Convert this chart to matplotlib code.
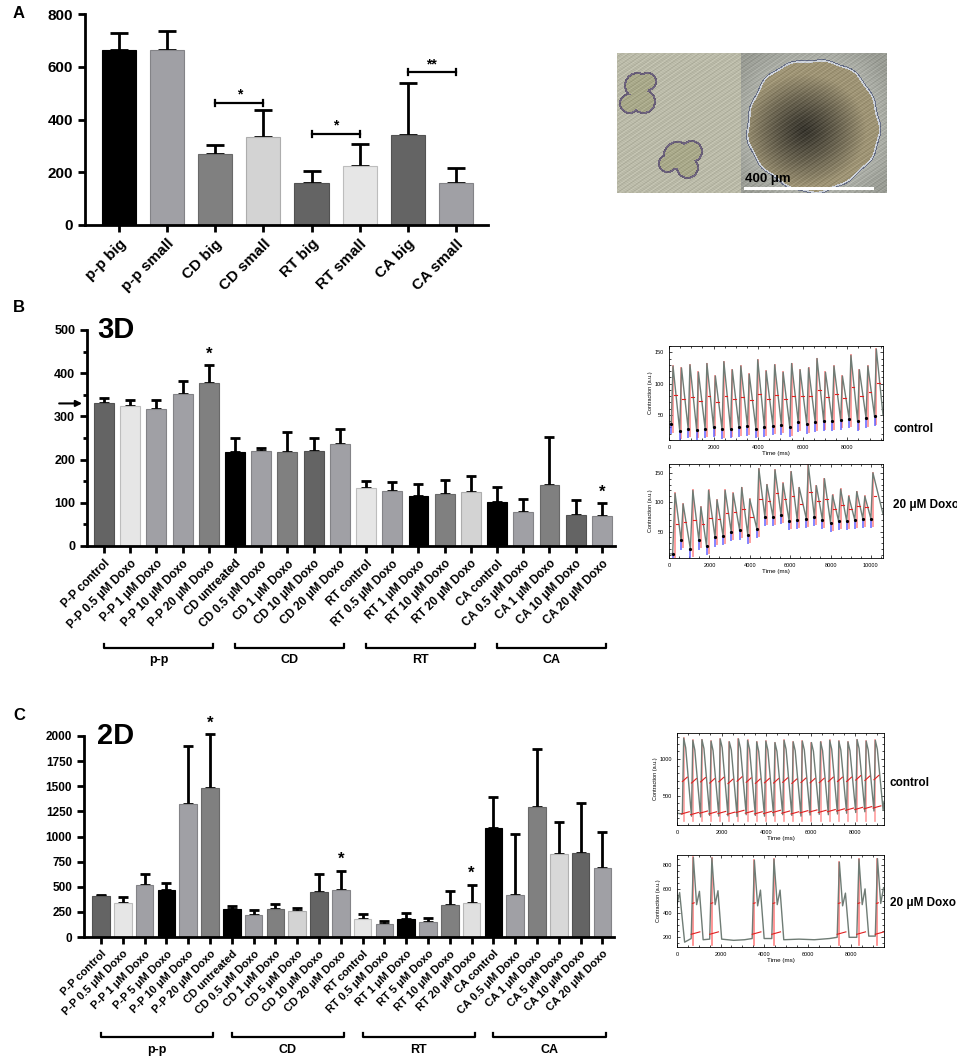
import numpy as np
import matplotlib.pyplot as plt
from matplotlib.colors import to_rgb
from matplotlib.transforms import blended_transform_factory

plt.rcParams['font.family'] = ['Liberation Sans', 'DejaVu Sans']
plt.rcParams['font.weight'] = 'bold'
plt.rcParams['axes.linewidth'] = 2

# ---------------- data ----------------
# panel A
a_labels = ['p-p big', 'p-p small', 'CD big', 'CD small', 'RT big', 'RT small', 'CA big', 'CA small']
a_values = [665, 665, 268, 335, 160, 222, 342, 160]
a_tops = [728, 735, 303, 435, 205, 307, 538, 218]
a_colors = ['#000000', '#a0a0a5', '#808080', '#d3d3d3', '#646464', '#e6e6e6', '#646464', '#a0a0a5']
a_sig = [(2, 3, 463, '*'), (4, 5, 345, '*'), (6, 7, 580, '**')]

# panel B (3D)
b_labels = ['P-P control', 'P-P 0.5 μM Doxo', 'P-P 1 μM Doxo', 'P-P 10 μM Doxo', 'P-P 20 μM Doxo',
            'CD untreated', 'CD 0.5 μM Doxo', 'CD 1 μM Doxo', 'CD 10 μM Doxo', 'CD 20 μM Doxo',
            'RT control', 'RT 0.5 μM Doxo', 'RT 1 μM Doxo', 'RT 10 μM Doxo', 'RT 20 μM Doxo',
            'CA control', 'CA 0.5 μM Doxo', 'CA 1 μM Doxo', 'CA 10 μM Doxo', 'CA 20 μM Doxo']
b_values = [330, 325, 317, 351, 377, 217, 219, 218, 221, 237, 134, 128, 115, 120, 124, 102, 79, 142, 71, 70]
b_tops = [342, 339, 337, 383, 420, 249, 226, 263, 249, 270, 150, 147, 144, 152, 163, 137, 108, 252, 107, 100]
b_colors = ['#646464', '#e6e6e6', '#a0a0a5', '#a0a0a5', '#808080',
            '#000000', '#a0a0a5', '#808080', '#646464', '#a0a0a5',
            '#e6e6e6', '#a0a0a5', '#000000', '#808080', '#d3d3d3',
            '#000000', '#a0a0a5', '#808080', '#646464', '#a0a0a5']
b_stars = [4, 19]
b_groups = [('p-p', 0, 4), ('CD', 5, 9), ('RT', 10, 14), ('CA', 15, 19)]
b_arrow_value = 330

# panel C (2D)
c_labels = ['P-P control', 'P-P 0.5 μM Doxo', 'P-P 1 μM Doxo', 'P-P 5 μM Doxo', 'P-P 10 μM Doxo', 'P-P 20 μM Doxo',
            'CD untreated', 'CD 0.5 μM Doxo', 'CD 1 μM Doxo', 'CD 5 μM Doxo', 'CD 10 μM Doxo', 'CD 20 μM Doxo',
            'RT control', 'RT 0.5 μM Doxo', 'RT 1 μM Doxo', 'RT 5 μM Doxo', 'RT 10 μM Doxo', 'RT 20 μM Doxo',
            'CA control', 'CA 0.5 μM Doxo', 'CA 1 μM Doxo', 'CA 5 μM Doxo', 'CA 10 μM Doxo', 'CA 20 μM Doxo']
c_values = [405, 342, 522, 465, 1319, 1482, 282, 219, 276, 262, 449, 468,
            179, 133, 176, 150, 319, 336, 1080, 419, 1296, 821, 837, 691]
c_tops = [422, 399, 631, 535, 1904, 2017, 312, 266, 326, 292, 625, 661,
          233, 156, 239, 186, 455, 518, 1395, 1023, 1867, 1143, 1336, 1045]
c_colors = ['#646464', '#e6e6e6', '#a0a0a5', '#000000', '#a0a0a5', '#808080',
            '#000000', '#a0a0a5', '#808080', '#d3d3d3', '#646464', '#a0a0a5',
            '#e6e6e6', '#a0a0a5', '#000000', '#a0a0a5', '#808080', '#e0e0e0',
            '#000000', '#a0a0a5', '#808080', '#d8d8d8', '#646464', '#a0a0a5']
c_stars = [5, 11, 17]
c_groups = [('p-p', 0, 5), ('CD', 6, 11), ('RT', 12, 17), ('CA', 18, 23)]

# contraction traces, 3D control
bc_trough_t = [100, 480, 860, 1240, 1620, 2000, 2380, 2760, 3140, 3520, 3900, 4280, 4660,
               5040, 5420, 5800, 6180, 6560, 6940, 7320, 7700, 8080, 8460, 8840, 9220]
bc_trough_v = [35, 25, 28, 26, 28, 30, 27, 28, 30, 32, 28, 30, 33, 34, 30, 38, 35, 38, 40, 40, 42, 44, 40, 45, 48]
bc_peak_t = [180, 560, 940, 1320, 1700, 2080, 2460, 2840, 3220, 3600, 3980, 4360, 4740,
             5120, 5500, 5880, 6260, 6640, 7020, 7400, 7780, 8160, 8540, 8920, 9300]
bc_peak_v = [128, 125, 130, 118, 132, 112, 135, 122, 128, 115, 138, 120, 130, 118, 132, 122, 125, 140, 118,
             128, 112, 145, 122, 128, 155]
# 3D 20 uM Doxo
bd_trough_t = [180, 600, 1060, 1480, 1860, 2280, 2680, 3080, 3500, 3900, 4350, 4750, 5150,
               5550, 5950, 6350, 6800, 7200, 7600, 8000, 8400, 8800, 9200, 9600, 10000]
bd_trough_v = [12, 35, 20, 35, 25, 40, 42, 50, 52, 45, 55, 75, 75, 78, 68, 70, 72, 75, 70, 65, 68, 68, 70, 72, 72]
bd_peak_t = [300, 700, 1180, 1580, 1960, 2380, 2780, 3180, 3600, 4000, 4450, 4850, 5250,
             5650, 6050, 6450, 6900, 7300, 7700, 8100, 8500, 8900, 9300, 9700, 10100]
bd_peak_v = [115, 97, 120, 92, 120, 104, 120, 115, 125, 105, 157, 130, 155, 132, 152, 125, 163, 128, 140,
             112, 122, 110, 118, 110, 150]
# 2D control
cc_peak_t = [300, 710, 1120, 1530, 1940, 2350, 2760, 3170, 3580, 3990, 4400,
             4810, 5220, 5630, 6040, 6450, 6860, 7270, 7680, 8090, 8500, 8910]
cc_peak_v = [1280, 1250, 1260, 1240, 1270, 1230, 1270, 1250, 1230, 1240, 1220,
             1250, 1230, 1240, 1220, 1230, 1250, 1240, 1230, 1260, 1240, 1250]
cc_second_t = [390, 800, 1210, 1620, 2030, 2440, 2850, 3260, 3670, 4080, 4490,
               4900, 5310, 5720, 6130, 6540, 6950, 7360, 7770, 8180, 8590, 9000]
cc_second_v = [1150, 1120, 1140, 1110, 1150, 1120, 1140, 1130, 1100, 1120, 1100,
               1130, 1110, 1120, 1100, 1110, 1130, 1120, 1110, 1140, 1120, 1130]
cc_trough_t = [650, 1060, 1470, 1880, 2290, 2700, 3110, 3520, 3930, 4340, 4750,
               5160, 5570, 5980, 6390, 6800, 7210, 7620, 8030, 8440, 8850, 9260]
cc_trough_v = [220, 210, 230, 220, 225, 215, 240, 230, 220, 225, 240,
               230, 220, 235, 245, 240, 250, 260, 270, 280, 290, 300]
# 2D 20 uM Doxo
cd_t = [0, 120, 350, 500, 650, 750, 900, 1030, 1200, 1500, 1600, 1750, 1880, 2050, 2600, 3100, 3450, 3550,
        3700, 3830, 4000, 4350, 4450, 4600, 4730, 4900, 5600, 6300, 7000, 7350, 7450, 7600, 7730, 7900,
        8250, 8350, 8500, 8630, 8800, 9100, 9200, 9350, 9480]
cd_v = [470, 570, 160, 175, 190, 860, 470, 580, 180, 185, 855, 470, 585, 185, 175, 180, 190, 835,
        460, 590, 190, 190, 845, 470, 590, 180, 185, 180, 190, 200, 820, 460, 565, 200,
        200, 845, 470, 600, 210, 210, 850, 480, 610]
cd_burst_t = [750, 1600, 3550, 4450, 7450, 8350, 9200]
cd_burst_v = [860, 855, 835, 845, 820, 845, 850]

W, H = 957, 1061
fig = plt.figure(figsize=(W / 100, H / 100), dpi=100)


def px_axes(x0, y0, x1, y1):
    return fig.add_axes([x0 / W, 1 - y1 / H, (x1 - x0) / W, (y1 - y0) / H])


def bar_panel(ax, labels, values, tops, colors, width, capsize, lab_size, tick_size):
    x = np.arange(len(values))
    edges = [tuple(np.array(to_rgb(c)) * 0.82) for c in colors]
    ax.bar(x, values, width, color=colors, edgecolor=edges, linewidth=0.8, zorder=2)
    err = np.array(tops) - np.array(values)
    eb = ax.errorbar(x, values, yerr=[np.zeros(len(values)), err], fmt='none', ecolor='k',
                     elinewidth=2, capsize=capsize, capthick=2, zorder=1)
    for art in eb.get_children():
        art.set_clip_on(False)
    ax.spines['top'].set_visible(False)
    ax.spines['right'].set_visible(False)
    ax.set_xticks(x)
    ax.set_xticklabels(labels, rotation=45, ha='right', rotation_mode='anchor', fontsize=lab_size)
    ax.tick_params(axis='both', width=2, length=5, labelsize=tick_size)
    ax.tick_params(axis='x', labelsize=lab_size)
    return x


def group_brackets(ax, groups, y_line, y_text, size):
    tr = blended_transform_factory(ax.transData, ax.transAxes)
    for name, i0, i1 in groups:
        ax.plot([i0, i0, i1 + 0.15, i1 + 0.15], [y_line + 0.02, y_line, y_line, y_line + 0.02],
                color='k', lw=1.6, transform=tr, clip_on=False)
        ax.text((i0 + i1 + 0.15) / 2, y_text, name, ha='center', va='center', fontsize=size,
                transform=tr)


# ---------------- panel A ----------------
axA = px_axes(85, 14, 488, 225)
xa = bar_panel(axA, a_labels, a_values, a_tops, a_colors, 0.71, 6.5, 11, 11)
axA.set_xlim(-0.71, 7.67)
axA.set_ylim(0, 800)
axA.set_yticks([0, 200, 400, 600, 800])
for i0, i1, yv, s in a_sig:
    axA.plot([i0, i1], [yv, yv], color='k', lw=1.6)
    axA.plot([i0, i0], [yv - 10, yv + 10], color='k', lw=1.6)
    axA.plot([i1, i1], [yv - 10, yv + 10], color='k', lw=1.6)
    axA.text((i0 + i1) / 2, yv + 4, s, ha='center', va='bottom', fontsize=10)
fig.text(13 / W, 1 - 13 / H, 'A', fontsize=12, va='center', ha='left')

# micrograph (two phase-contrast photos side by side)
axI = px_axes(617, 53, 887, 193)
yy, xx = np.mgrid[0:140, 0:270].astype(float)
img = np.zeros((140, 270, 3))
img[:] = (0.73, 0.73, 0.66)
right = xx >= 124
grain = 0.04 * np.sin(xx * 1.7) * np.sin(yy * 2.3) + 0.03 * np.sin(xx * 0.9 + yy * 1.3)
theta = np.arctan2(yy - 72, xx - 196)
r_sph = np.hypot(xx - 196, yy - 72)
r_edge = 66 + 1.0 * np.sin(5 * theta) + 0.8 * np.sin(13 * theta + 1.0)
bg_r = np.clip(1 - (r_sph - r_edge) / 25, 0, 1)
img[right] = (0.60, 0.61, 0.58)
halo = right & (r_sph >= r_edge)
img[halo] = img[halo] + (0.08 * bg_r[halo])[:, None]
core = np.clip(np.hypot(xx - 187, (yy - 77) * 1.1) / 62, 0, 1)
body = np.array([0.62, 0.58, 0.46])
dark = np.array([0.22, 0.21, 0.18])
mix = core[..., None] ** 1.2
sph = dark * (1 - mix) + body * mix
inside = right & (r_sph < r_edge)
img[inside] = sph[inside]
rim = right & (r_sph >= r_edge - 1.5) & (r_sph < r_edge)
img[rim] = (0.80, 0.82, 0.85)
outer = right & (r_sph >= r_edge) & (r_sph < r_edge + 1.0)
img[outer] = (0.40, 0.43, 0.52)

blobs = [[(20, 32, 13), (26, 48, 12), (12, 50, 10), (30, 28, 9)],
         [(60, 102, 14), (74, 98, 11), (70, 114, 11), (50, 110, 9)]]
for parts in blobs:
    d = np.min([np.hypot(xx - cx, yy - cy) - rr for cx, cy, rr in parts], axis=0)
    left_in = (~right) & (d < 0)
    img[left_in] = (0.66, 0.66, 0.54)
    edge = (~right) & (d > -1.6) & (d < 0.6)
    img[edge] = (0.42, 0.38, 0.48)
img = np.clip(img + grain[..., None], 0, 1)
axI.imshow(img, extent=(0, 270, 140, 0), aspect='auto', interpolation='bilinear')
axI.plot([128, 255], [135, 135], color='white', lw=2.2)
axI.text(128, 132, '400 μm', fontsize=9.5, ha='left', va='bottom', color='black')
axI.set_xlim(0, 270)
axI.set_ylim(140, 0)
axI.axis('off')

# ---------------- panel B ----------------
axB = px_axes(87, 330, 615, 546)
xb = bar_panel(axB, b_labels, b_values, b_tops, b_colors, 0.76, 3.5, 8.5, 9)
axB.set_xlim(-0.65, 19.5)
axB.set_ylim(0, 500)
axB.set_yticks([0, 100, 200, 300, 400, 500])
axB.set_yticks([50, 150, 250, 350, 450], minor=True)
axB.tick_params(axis='y', which='minor', width=2, length=3)
for i in b_stars:
    axB.text(i, b_tops[i] + 6, '*', ha='center', va='bottom', fontsize=12)
trB = blended_transform_factory(axB.transAxes, axB.transData)
axB.annotate('', xy=(-0.004, b_arrow_value), xycoords=trB, xytext=(-0.058, b_arrow_value),
             textcoords=trB, arrowprops=dict(arrowstyle='-|>', color='k', lw=1.5, mutation_scale=9),
             annotation_clip=False)
axB.text(0.019, 1.0, '3D', transform=axB.transAxes, fontsize=21, va='center', ha='left')
group_brackets(axB, b_groups, -0.472, -0.528, 9)
fig.text(13 / W, 1 - 308 / H, 'B', fontsize=12, va='center', ha='left')

# ---------------- panel C ----------------
axC = px_axes(84, 736, 614, 937)
xc = bar_panel(axC, c_labels, c_values, c_tops, c_colors, 0.81, 3.5, 8, 8.5)
axC.set_xlim(-0.78, 23.53)
axC.set_ylim(0, 2000)
axC.set_yticks(np.arange(0, 2001, 250))
for i in c_stars:
    axC.text(i, c_tops[i] + 40, '*', ha='center', va='bottom', fontsize=12)
axC.text(0.025, 1.0, '2D', transform=axC.transAxes, fontsize=21, va='center', ha='left')
group_brackets(axC, c_groups, -0.4975, -0.562, 9)
fig.text(13 / W, 1 - 716 / H, 'C', fontsize=12, va='center', ha='left')


# ---------------- contraction traces ----------------
def trace_axes(box, xlim, ylim, yticks, xticks):
    ax = px_axes(*box)
    ax.set_xlim(*xlim)
    ax.set_ylim(*ylim)
    ax.set_yticks(yticks)
    ax.set_xticks(xticks)
    ax.minorticks_on()
    for s in ax.spines.values():
        s.set_linewidth(0.6)
    ax.tick_params(which='both', direction='in', top=True, right=True, width=0.5, labelsize=4)
    ax.tick_params(which='major', length=2.5)
    ax.tick_params(which='minor', length=1.2)
    for lab in ax.get_xticklabels() + ax.get_yticklabels():
        lab.set_fontweight('normal')
    ax.set_xlabel('Time (ms)', fontsize=4.5, fontweight='normal', labelpad=0.5)
    ax.set_ylabel('Contraction (a.u.)', fontsize=4, fontweight='normal', labelpad=1.5)
    return ax


line_col = '#6f7c75'


def beat_trace(ax, tt, tv, pt, pv, end):
    xs, ys = [0], [tv[0]]
    for a, b, c, d in zip(tt, tv, pt, pv):
        xs += [a, c]
        ys += [b, d]
    xs.append(end[0])
    ys.append(end[1])
    for a, b, c, d in zip(tt, tv, pt, pv):
        ax.plot([c, c], [b - 12, d], color='#ff5050', lw=1.4, alpha=0.55, zorder=1)
        ax.plot([c + 30, c + 160], [(b + d) / 2, (b + d) / 2], color='#e02020', lw=0.8, zorder=3)
        ax.plot([a, a], [b - 14, b], color='#5a5aff', lw=1.4, alpha=0.75, zorder=3)
    ax.plot(xs, ys, color=line_col, lw=1.0, zorder=2)
    ax.plot(tt, tv, 'o', color='k', ms=1.3, zorder=4)


axT1 = trace_axes((669, 346, 883, 440), (0, 9600), (10, 160), [50, 100, 150], [0, 2000, 4000, 6000, 8000])
beat_trace(axT1, bc_trough_t, bc_trough_v, bc_peak_t, bc_peak_v, (9600, 50))
axT2 = trace_axes((669, 464, 883, 558), (0, 10600), (5, 165), [50, 100, 150],
                  [0, 2000, 4000, 6000, 8000, 10000])
beat_trace(axT2, bd_trough_t, bd_trough_v, bd_peak_t, bd_peak_v, (10600, 80))
fig.text(893 / W, 1 - 429 / H, 'control', fontsize=8.5, va='center', ha='left')
fig.text(893 / W, 1 - 505 / H, '20 μM Doxo', fontsize=8.5, va='center', ha='left')

axT3 = trace_axes((677, 733, 884, 825), (0, 9300), (100, 1350), [500, 1000], [0, 2000, 4000, 6000, 8000])
xs, ys = [0, 240], [260, 250]
for a, b, c, d, e, f in zip(cc_peak_t, cc_peak_v, cc_second_t, cc_second_v, cc_trough_t, cc_trough_v):
    xs += [a, c, e]
    ys += [b, d, f]
xs.append(9300)
ys.append(420)
axT3.plot(xs, ys, color=line_col, lw=1.0, zorder=2)
for a, b, f in zip(cc_peak_t, cc_peak_v, cc_trough_v):
    axT3.plot([a, a], [160, b], color='#ff5050', lw=1.2, alpha=0.55, zorder=1)
    axT3.plot([a - 60, a + 160], [(b + f) / 2 - 60, (b + f) / 2], color='#e02020', lw=0.8, zorder=3)
    axT3.plot([a - 100, a + 250], [f + 30, f + 60], color='#e02020', lw=0.8, zorder=3)

axT4 = trace_axes((677, 855, 884, 947), (0, 9500), (120, 880), [200, 400, 600, 800], [0, 2000, 4000, 6000, 8000])
axT4.plot(cd_t, cd_v, color=line_col, lw=1.0, zorder=2)
for a, b in zip(cd_burst_t, cd_burst_v):
    axT4.plot([a, a], [140, b], color='#ff5050', lw=1.2, alpha=0.7, zorder=1)
    axT4.plot([a - 40, a + 40], [480, 485], color='#e02020', lw=0.8, zorder=3)
    axT4.plot([a - 100, a + 300], [225, 245], color='#e02020', lw=0.8, zorder=3)
fig.text(890 / W, 1 - 783 / H, 'control', fontsize=8.5, va='center', ha='left')
fig.text(890 / W, 1 - 903 / H, '20 μM Doxo', fontsize=8.5, va='center', ha='left')

fig.savefig('out.png', dpi=100)
